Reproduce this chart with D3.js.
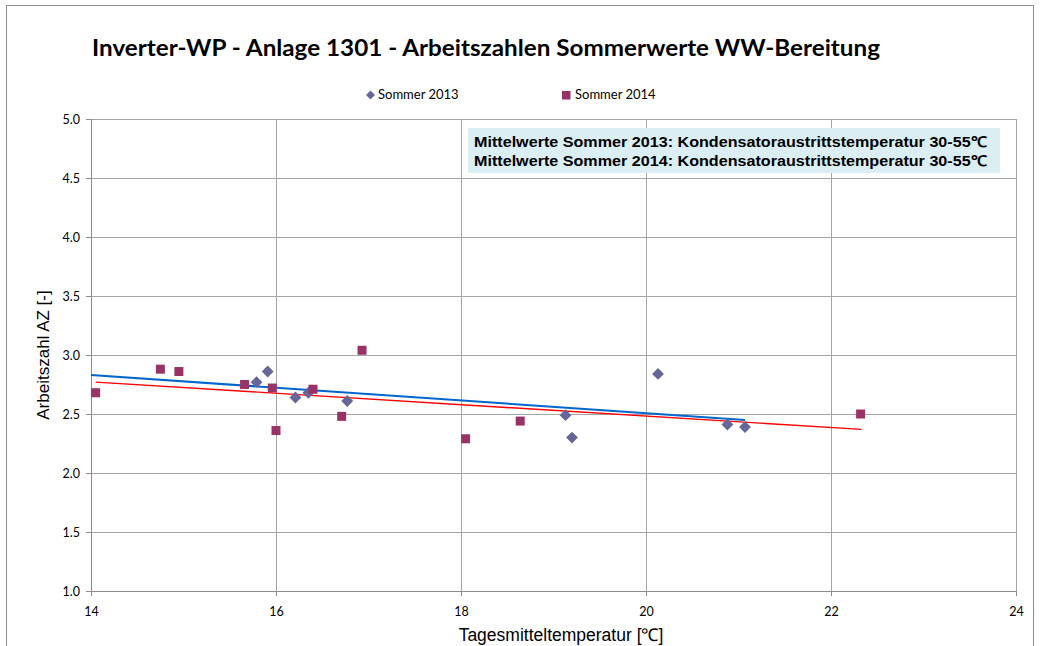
<!DOCTYPE html>
<html>
<head>
<meta charset="utf-8">
<script src="https://cdn.jsdelivr.net/npm/d3@7"></script>
<style>
  body { margin: 0; background: #fff; }
</style>
</head>
<body>
<div id="chart"></div>
<script>
// Sommer 2013 (diamonds)
let temp2013 = [15.79, 15.91, 16.21, 16.35, 16.77, 19.13, 19.20, 20.13, 20.88, 21.07];
let az2013 = [2.77, 2.86, 2.64, 2.68, 2.61, 2.49, 2.30, 2.84, 2.41, 2.39];
// Sommer 2014 (squares)
let temp2014 = [14.05, 14.75, 14.95, 15.66, 15.96, 16.00, 16.40, 16.71, 16.93, 18.05, 18.64, 22.32];
let az2014 = [2.68, 2.88, 2.86, 2.75, 2.72, 2.36, 2.71, 2.48, 3.04, 2.29, 2.44, 2.50];
// trend line end points
let trend2013 = [[14.0, 2.83], [21.07, 2.45]];
let trend2014 = [[14.05, 2.77], [22.33, 2.37]];

let xTicks = [14, 16, 18, 20, 22, 24];
let yTicks = [1.0, 1.5, 2.0, 2.5, 3.0, 3.5, 4.0, 4.5, 5.0];

let width = 1042;
let height = 646;
let plot = { left: 91, right: 1016, top: 119, bottom: 591 };

let color2013 = '#666699';
let color2014 = '#993366';
let gridColor = '#a6a6a6';
let sans = '"Liberation Sans", Arial, sans-serif';
let calibri = 'Lato, "Open Sans", sans-serif';

let svg = d3.select('#chart')
    .append('svg')
    .attr('width', width)
    .attr('height', height)
    .attr('font-family', sans);

// outer chart border
svg.append('rect')
    .attr('x', 6.5)
    .attr('y', 5.5)
    .attr('width', 1027)
    .attr('height', 700)
    .attr('fill', '#fff')
    .attr('stroke', '#8c8c8c');

let xScale = d3.scaleLinear().domain([14, 24]).range([plot.left, plot.right]);
let yScale = d3.scaleLinear().domain([1, 5]).range([plot.bottom, plot.top]);

// gridlines
svg.append('g')
    .attr('transform', `translate(0, ${plot.bottom})`)
    .call(d3.axisBottom(xScale).tickValues(xTicks).tickFormat('').tickSize(-(plot.bottom - plot.top)))
    .call(g => g.select('.domain').remove())
    .selectAll('line').attr('stroke', gridColor);

svg.append('g')
    .attr('transform', `translate(${plot.left}, 0)`)
    .call(d3.axisLeft(yScale).tickValues(yTicks).tickFormat('').tickSize(-(plot.right - plot.left)))
    .call(g => g.select('.domain').remove())
    .selectAll('line').attr('stroke', gridColor);

// axes
let xAxis = svg.append('g')
    .attr('transform', `translate(0, ${plot.bottom})`)
    .call(d3.axisBottom(xScale).tickValues(xTicks).tickFormat(d3.format('d')).tickSize(5).tickPadding(11));
xAxis.select('.domain').attr('stroke', '#8c8c8c');
xAxis.selectAll('line').attr('stroke', '#8c8c8c');
xAxis.selectAll('text').attr('font-size', 12.5).attr('fill', '#000').attr('font-family', calibri);

let yAxis = svg.append('g')
    .attr('transform', `translate(${plot.left}, 0)`)
    .call(d3.axisLeft(yScale).tickValues(yTicks).tickFormat(d3.format('.1f')).tickSize(5).tickPadding(6));
yAxis.select('.domain').attr('stroke', '#8c8c8c');
yAxis.selectAll('line').attr('stroke', '#8c8c8c');
yAxis.selectAll('text').attr('font-size', 12.5).attr('fill', '#000').attr('font-family', calibri);

// annotation box
let note = svg.append('g');
note.append('rect')
    .attr('x', 468)
    .attr('y', 128)
    .attr('width', 532)
    .attr('height', 45)
    .attr('fill', '#daeef3');
note.selectAll('text')
    .data(['Mittelwerte Sommer 2013: Kondensatoraustrittstemperatur 30-55\u2103',
           'Mittelwerte Sommer 2014: Kondensatoraustrittstemperatur 30-55\u2103'])
    .join('text')
    .attr('x', 474)
    .attr('y', (d, i) => 147 + i * 19)
    .attr('font-size', 14.8)
    .attr('font-weight', 'bold')
    .attr('textLength', 513)
    .attr('lengthAdjust', 'spacingAndGlyphs')
    .text(d => d);

// trend lines
let line = d3.line().x(d => xScale(d[0])).y(d => yScale(d[1]));
svg.append('path')
    .datum(trend2013)
    .attr('d', line)
    .attr('fill', 'none')
    .attr('stroke', '#0066cc')
    .attr('stroke-width', 2);
svg.append('path')
    .datum(trend2014)
    .attr('d', line)
    .attr('fill', 'none')
    .attr('stroke', '#ff0000')
    .attr('stroke-width', 1.4);

// points
let points2013 = temp2013.map((t, i) => ({ t, az: az2013[i] }));
let points2014 = temp2014.map((t, i) => ({ t, az: az2014[i] }));

let diamond = d3.symbol().type(d3.symbolSquare).size(70);
svg.append('g')
    .selectAll('path')
    .data(points2013)
    .join('path')
    .attr('d', diamond)
    .attr('transform', d => `translate(${xScale(d.t)}, ${yScale(d.az)}) rotate(45)`)
    .attr('fill', color2013);

svg.append('g')
    .selectAll('rect')
    .data(points2014)
    .join('rect')
    .attr('x', d => xScale(d.t) - 4.5)
    .attr('y', d => yScale(d.az) - 4.5)
    .attr('width', 9)
    .attr('height', 9)
    .attr('fill', color2014);

// title
svg.append('text')
    .attr('x', 92)
    .attr('y', 56)
    .attr('font-size', 22)
    .attr('font-weight', 'bold')
    .attr('font-family', calibri)
    .attr('textLength', 788)
    .attr('lengthAdjust', 'spacingAndGlyphs')
    .text('Inverter-WP - Anlage 1301 - Arbeitszahlen Sommerwerte WW-Bereitung');

// legend
let legend = svg.append('g').attr('font-family', calibri).attr('font-size', 13);
legend.append('path')
    .attr('d', d3.symbol().type(d3.symbolSquare).size(40))
    .attr('transform', 'translate(370.5, 95) rotate(45)')
    .attr('fill', color2013);
legend.append('text').attr('x', 378).attr('y', 99).text('Sommer 2013');
legend.append('rect')
    .attr('x', 562).attr('y', 91).attr('width', 8.5).attr('height', 8.5)
    .attr('fill', color2014);
legend.append('text').attr('x', 575).attr('y', 99).text('Sommer 2014');

// axis titles
svg.append('text')
    .attr('x', 561)
    .attr('y', 641)
    .attr('text-anchor', 'middle')
    .attr('font-size', 17.5)
    .text('Tagesmitteltemperatur [\u2103]');

svg.append('text')
    .attr('transform', 'translate(49, 355) rotate(-90)')
    .attr('text-anchor', 'middle')
    .attr('font-size', 17)
    .text('Arbeitszahl AZ [-]');
</script>
</body>
</html>
